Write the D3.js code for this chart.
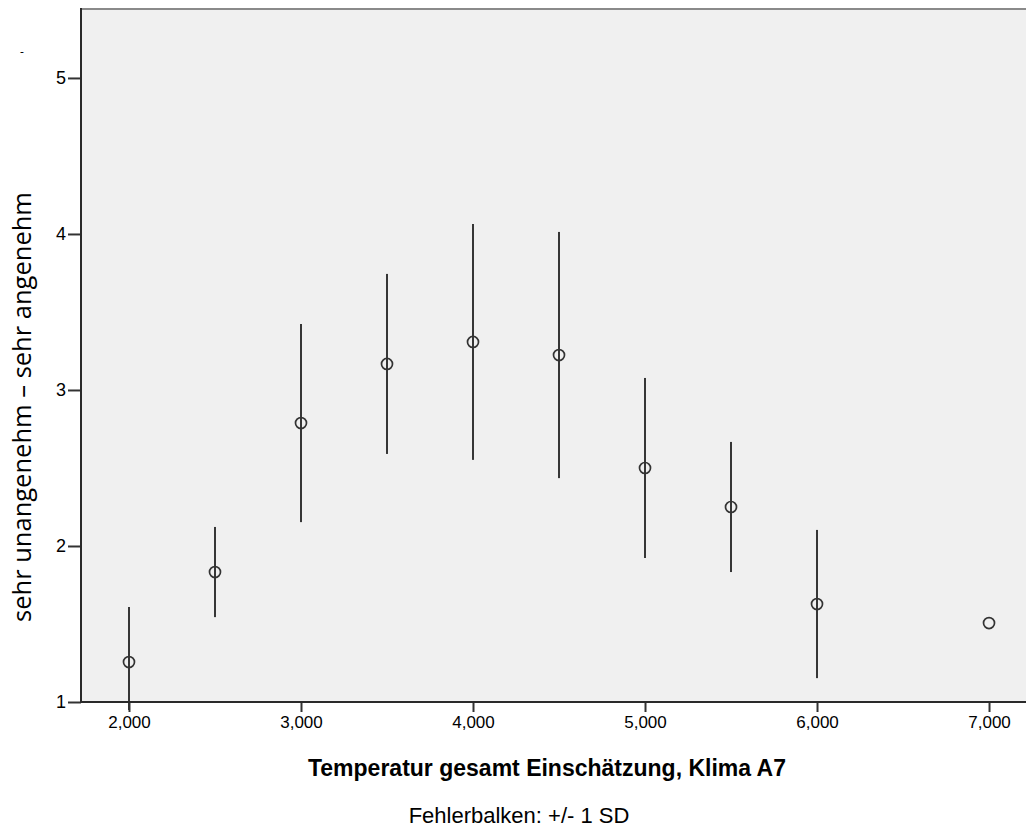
<!DOCTYPE html>
<html><head><meta charset="utf-8">
<script src="https://cdn.jsdelivr.net/npm/d3@7"></script>
<style>body{margin:0;background:#fff}svg{display:block}</style>
</head><body>
<script>
const temps = [2000, 2500, 3000, 3500, 4000, 4500, 5000, 5500, 6000, 7000];
const means = [1.256, 1.833, 2.788, 3.167, 3.308, 3.224, 2.50, 2.25, 1.628, 1.506];
const sds   = [0.353, 0.289, 0.635, 0.577, 0.756, 0.789, 0.577, 0.417, 0.475, null];
const xTicks = [2000, 3000, 4000, 5000, 6000, 7000];
const yTicks = [1, 2, 3, 4, 5];
const yLabel = "sehr unangenehm – sehr angenehm";
const xLabel = "Temperatur gesamt Einschätzung, Klima A7";
const footnote = "Fehlerbalken: +/- 1 SD";

(function () {
const W = 1026, H = 829;
const pL = 81, pR = 1026, pT = 9, pB = 702;
const svg = d3.select("body").append("svg").attr("width", W).attr("height", H);

const x = d3.scaleLinear().domain([1721, 7215]).range([pL, pR]);
const y = d3.scaleLinear().domain([1, 5.442]).range([pB, pT]);

svg.append("rect").attr("x", pL).attr("y", pT).attr("width", pR - pL).attr("height", pB - pT).attr("fill", "#f0f0f0");
svg.append("line").attr("x1", pL).attr("x2", pR).attr("y1", pT).attr("y2", pT).attr("stroke", "#8a8a8a").attr("stroke-width", 2);

svg.append("clipPath").attr("id", "clip").append("rect").attr("x", pL).attr("y", pT).attr("width", pR - pL).attr("height", pB - pT + 10);
const plot = svg.append("g").attr("clip-path", "url(#clip)");

const data = temps.map((t, i) => ({t, m: means[i], sd: sds[i]}));
plot.selectAll("line.err").data(data.filter(d => d.sd != null)).enter().append("line")
  .attr("class", "err")
  .attr("x1", d => x(d.t)).attr("x2", d => x(d.t))
  .attr("y1", d => y(d.m + d.sd)).attr("y2", d => Math.min(y(d.m - d.sd), pB + 8))
  .attr("stroke", "#363636").attr("stroke-width", 2);
plot.selectAll("circle").data(data).enter().append("circle")
  .attr("cx", d => x(d.t)).attr("cy", d => y(d.m)).attr("r", 5.5)
  .attr("fill", "none").attr("stroke", "#333").attr("stroke-width", 1.7);

const font = "Liberation Sans, Arial, sans-serif";
const xAxis = svg.append("g").attr("transform", `translate(0,${pB})`)
  .call(d3.axisBottom(x).tickValues(xTicks).tickSize(10).tickPadding(4).tickFormat(d3.format(",")));
xAxis.select(".domain").remove();
xAxis.selectAll("text").attr("font-family", font).attr("font-size", 17).attr("fill", "#000");
xAxis.selectAll("line").attr("stroke", "#333").attr("stroke-width", 2);

const yAxis = svg.append("g").attr("transform", `translate(${pL},0)`)
  .call(d3.axisLeft(y).tickValues(yTicks).tickSize(13).tickPadding(2).tickFormat(d3.format("d")));
yAxis.select(".domain").remove();
yAxis.selectAll("text").attr("font-family", font).attr("font-size", 18).attr("fill", "#000");
yAxis.selectAll("line").attr("stroke", "#333").attr("stroke-width", 2);

svg.append("line").attr("x1", pL).attr("x2", pL).attr("y1", pT - 1).attr("y2", pB + 1).attr("stroke", "#2a2a2a").attr("stroke-width", 2);
svg.append("line").attr("x1", pL - 1).attr("x2", pR).attr("y1", pB).attr("y2", pB).attr("stroke", "#2a2a2a").attr("stroke-width", 2);

svg.append("text").attr("transform", `translate(31,407) rotate(-90)`).attr("text-anchor", "middle")
  .attr("font-family", "Open Sans, sans-serif").attr("font-size", 25.5).attr("fill", "#000").text(yLabel);
svg.append("text").attr("x", 22).attr("y", 56).attr("text-anchor", "middle")
  .attr("font-family", "Open Sans, sans-serif").attr("font-size", 12).attr("fill", "#000").text("-");

svg.append("text").attr("x", 547).attr("y", 776).attr("text-anchor", "middle")
  .attr("font-family", font).attr("font-weight", "bold").attr("font-size", 23).attr("fill", "#000").text(xLabel);
svg.append("text").attr("x", 519).attr("y", 823).attr("text-anchor", "middle")
  .attr("font-family", font).attr("font-size", 22).attr("fill", "#000").text(footnote);
})();
</script>
</body></html>
